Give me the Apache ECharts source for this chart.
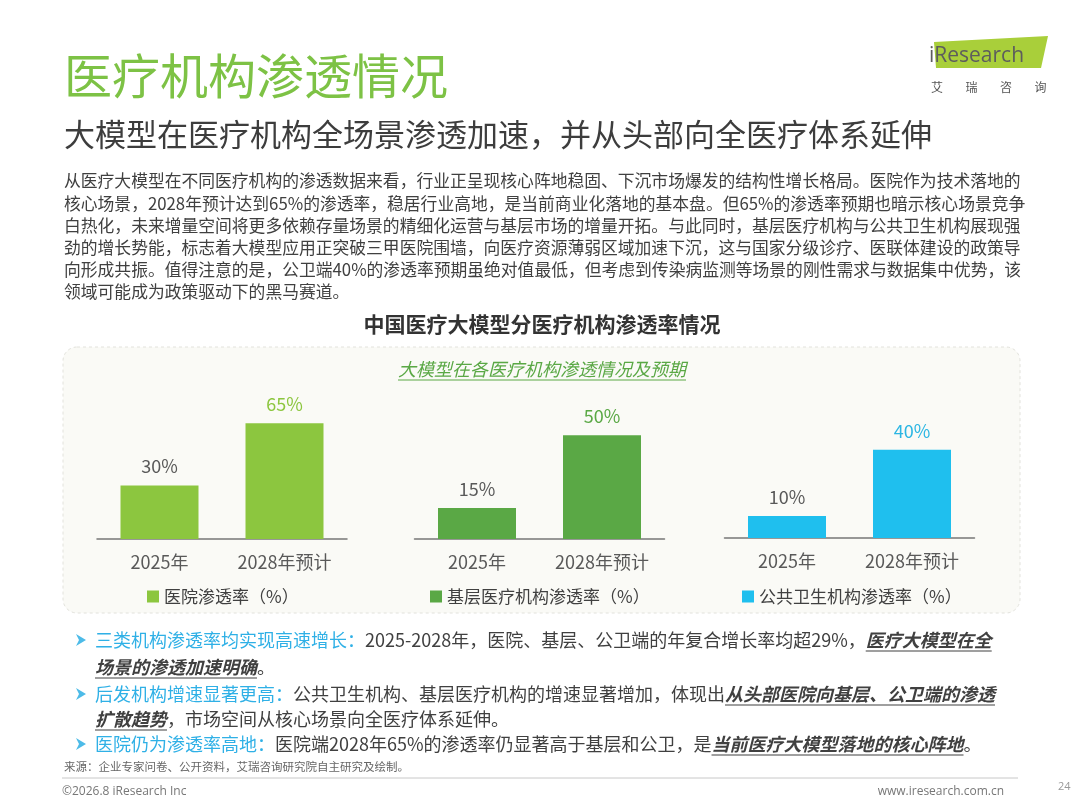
<!DOCTYPE html>
<html>
<head>
<meta charset="utf-8">
<script src="https://cdn.jsdelivr.net/npm/echarts@6/dist/echarts.min.js"></script>
<style>
html,body{margin:0;padding:0;background:#fff;}
#c{width:1080px;height:810px;}
</style>
</head>
<body>
<div id="c"></div>
<script>
// ---- data ----
const categories = ['2025年', '2028年预计'];
const hospital = [30, 65];
const primaryCare = [15, 50];
const publicHealth = [10, 40];
const seriesNames = ['医院渗透率（%）', '基层医疗机构渗透率（%）', '公共卫生机构渗透率（%）'];

const pageTitle = '医疗机构渗透情况';
const pageSubtitle = '大模型在医疗机构全场景渗透加速，并从头部向全医疗体系延伸';
const bodyLines = [
  '从医疗大模型在不同医疗机构的渗透数据来看，行业正呈现核心阵地稳固、下沉市场爆发的结构性增长格局。医院作为技术落地的',
  '核心场景，2028年预计达到65%的渗透率，稳居行业高地，是当前商业化落地的基本盘。但65%的渗透率预期也暗示核心场景竞争',
  '白热化，未来增量空间将更多依赖存量场景的精细化运营与基层市场的增量开拓。与此同时，基层医疗机构与公共卫生机构展现强',
  '劲的增长势能，标志着大模型应用正突破三甲医院围墙，向医疗资源薄弱区域加速下沉，这与国家分级诊疗、医联体建设的政策导',
  '向形成共振。值得注意的是，公卫端40%的渗透率预期虽绝对值最低，但考虑到传染病监测等场景的刚性需求与数据集中优势，该',
  '领域可能成为政策驱动下的黑马赛道。'
];
const chartTitle = '中国医疗大模型分医疗机构渗透率情况';
const panelTitle = '大模型在各医疗机构渗透情况及预期';
const logoChars = ['艾', '瑞', '咨', '询'];
// bullet lines: h=heading, n=normal, e=emphasis
const bulletLines = [
  {arrow: true, segs: [['h', '三类机构渗透率均实现高速增长：'], ['n', '2025-2028年，医院、基层、公卫端的年复合增长率均超29%，'], ['e', '医疗大模型在全']]},
  {arrow: false, segs: [['e', '场景的渗透加速明确'], ['n', '。']]},
  {arrow: true, segs: [['h', '后发机构增速显著更高：'], ['n', '公共卫生机构、基层医疗机构的增速显著增加，体现出'], ['e', '从头部医院向基层、公卫端的渗透']]},
  {arrow: false, segs: [['e', '扩散趋势'], ['n', '，市场空间从核心场景向全医疗体系延伸。']]},
  {arrow: true, segs: [['h', '医院仍为渗透率高地：'], ['n', '医院端2028年65%的渗透率仍显著高于基层和公卫，是'], ['e', '当前医疗大模型落地的核心阵地'], ['n', '。']]}
];
const sourceText = '来源：企业专家问卷、公开资料，艾瑞咨询研究院自主研究及绘制。';
const copyrightText = '©2026.8 iResearch Inc';
const siteText = 'www.iresearch.com.cn';
const pageNo = '24';

// ---- styles ----
const FF = '"Noto Sans CJK SC", "Noto Sans", sans-serif';
const colors = ['#8cc63f', '#5aa845', '#1fbfee'];
const labelAccent = ['#8cc63f', '#5aa845', '#2bb6e3'];
const grayText = '#595959';

const chart = echarts.init(document.getElementById('c'), null, {renderer: 'canvas'});

const mctx = document.createElement('canvas').getContext('2d');
function measure(t, font) { mctx.font = font; return mctx.measureText(t).width; }

const graphics = [];
// panel
graphics.push({type: 'rect', z: -10, shape: {x: 63, y: 347, width: 957, height: 266, r: 14},
  style: {fill: '#fafaf6', stroke: '#e2e2dc', lineWidth: 1, lineDash: [3, 3]}});
// title
graphics.push({type: 'text', x: 64, y: 76, style: {text: pageTitle, font: 'normal 48px ' + FF, fill: '#7dc245', verticalAlign: 'middle'}});
graphics.push({type: 'text', x: 64, y: 134, style: {text: pageSubtitle, font: 'normal 31px ' + FF, fill: '#3d3d3d', verticalAlign: 'middle'}});
// logo
graphics.push({type: 'polygon', shape: {points: [[934, 42], [1048, 36], [1041, 68], [936, 68]]}, style: {fill: '#a9cf3a'}});
graphics.push({type: 'text', x: 929, y: 56, style: {text: 'iResearch', font: 'normal 21px "Open Sans", sans-serif', fill: '#5d5d5d', verticalAlign: 'middle'}});
logoChars.forEach((c, i) => {
  graphics.push({type: 'text', x: 937 + i * 34.5, y: 87, style: {text: c, font: 'normal 12px ' + FF, fill: '#555', align: 'center', verticalAlign: 'middle'}});
});
// body
bodyLines.forEach((t, i) => {
  graphics.push({type: 'text', x: 64, y: 181 + i * 22.2, style: {text: t, font: 'normal 16.8px ' + FF, fill: '#404040', verticalAlign: 'middle'}});
});
// chart title
graphics.push({type: 'text', x: 542, y: 324, style: {text: chartTitle, font: 'bold 21px ' + FF, fill: '#333', align: 'center', verticalAlign: 'middle'}});
// panel title (italic underlined)
const ptFont = 'italic normal 18px ' + FF;
const ptW = measure(panelTitle, ptFont);
graphics.push({type: 'text', x: 542, y: 369, style: {text: panelTitle, font: ptFont, fill: '#5aa845', align: 'center', verticalAlign: 'middle'}});
graphics.push({type: 'line', shape: {x1: 542 - ptW / 2, y1: 380, x2: 542 + ptW / 2, y2: 380}, style: {stroke: '#5aa845', lineWidth: 1}});

// bullets
const fonts = {
  h: 'normal 18px ' + FF,
  n: 'normal 18px ' + FF,
  e: 'italic bold 18px ' + FF
};
const fills = {h: '#2fb0e6', n: '#404040', e: '#404040'};
const bulletY = [640, 667, 694, 719, 744];
bulletLines.forEach((line, i) => {
  const y = bulletY[i];
  if (line.arrow) {
    graphics.push({type: 'polygon', shape: {points: [[76, y - 6], [86, y], [76, y + 6], [79, y]]}, style: {fill: '#4dbbe8'}});
  }
  let x = 95;
  line.segs.forEach(([k, t]) => {
    const f = fonts[k];
    const w = measure(t, f);
    graphics.push({type: 'text', x: x, y: y, style: {text: t, font: f, fill: fills[k], verticalAlign: 'middle'}});
    if (k === 'e') {
      graphics.push({type: 'line', shape: {x1: x, y1: y + 11, x2: x + w, y2: y + 11}, style: {stroke: '#404040', lineWidth: 1.2}});
    }
    x += w;
  });
});
// source & footer
graphics.push({type: 'text', x: 64, y: 767, style: {text: sourceText, font: 'normal 11.5px ' + FF, fill: '#666', verticalAlign: 'middle'}});
graphics.push({type: 'line', shape: {x1: 62, y1: 778, x2: 1018, y2: 778}, style: {stroke: '#c8c8c8', lineWidth: 1}});
graphics.push({type: 'text', x: 62, y: 792, style: {text: copyrightText, font: 'normal 12px "Open Sans", sans-serif', fill: '#777', verticalAlign: 'middle'}});
graphics.push({type: 'text', x: 1004, y: 792, style: {text: siteText, font: 'normal 12px "Open Sans", sans-serif', fill: '#777', align: 'right', verticalAlign: 'middle'}});
graphics.push({type: 'text', x: 1058, y: 787, style: {text: pageNo, font: 'normal 11px "Open Sans", sans-serif', fill: '#999', verticalAlign: 'middle'}});

const gridLefts = [97, 414.5, 724.5];
const gridBottoms = [271, 271, 272];
const yMax = [78, 67, 63];
const seriesData = [hospital, primaryCare, publicHealth];
const legendLefts = [142, 425, 737];

const option = {
  backgroundColor: '#ffffff',
  animation: false,
  textStyle: {fontFamily: FF},
  graphic: {elements: graphics},
  grid: gridLefts.map((l, i) => ({left: l, width: 250, top: 810 - gridBottoms[i] - 139, height: 139})),
  xAxis: gridLefts.map((l, i) => ({
    type: 'category', gridIndex: i, data: categories,
    axisLine: {lineStyle: {color: '#777', width: 1.5}},
    axisTick: {show: false},
    axisLabel: {fontSize: 18, color: grayText, margin: 14, fontFamily: FF}
  })),
  yAxis: gridLefts.map((l, i) => ({
    type: 'value', gridIndex: i, min: 0, max: yMax[i], show: false, splitLine: {show: false}
  })),
  legend: seriesNames.map((n, i) => ({
    data: [n], left: legendLefts[i], top: 583, icon: 'rect', itemWidth: 12, itemHeight: 12, itemGap: 5,
    textStyle: {fontSize: 17, color: '#404040', fontFamily: FF}, selectedMode: false
  })),
  series: seriesNames.map((n, i) => ({
    name: n, type: 'bar', xAxisIndex: i, yAxisIndex: i, barWidth: 78,
    itemStyle: {color: colors[i]},
    data: seriesData[i].map((v, j) => ({
      value: v,
      label: {show: true, position: 'top', distance: 10, formatter: '{c}%', fontSize: 18, fontFamily: FF,
        color: j === 1 ? labelAccent[i] : grayText, fontWeight: 'normal'}
    }))
  }))
};
chart.setOption(option);
</script>
</body>
</html>
